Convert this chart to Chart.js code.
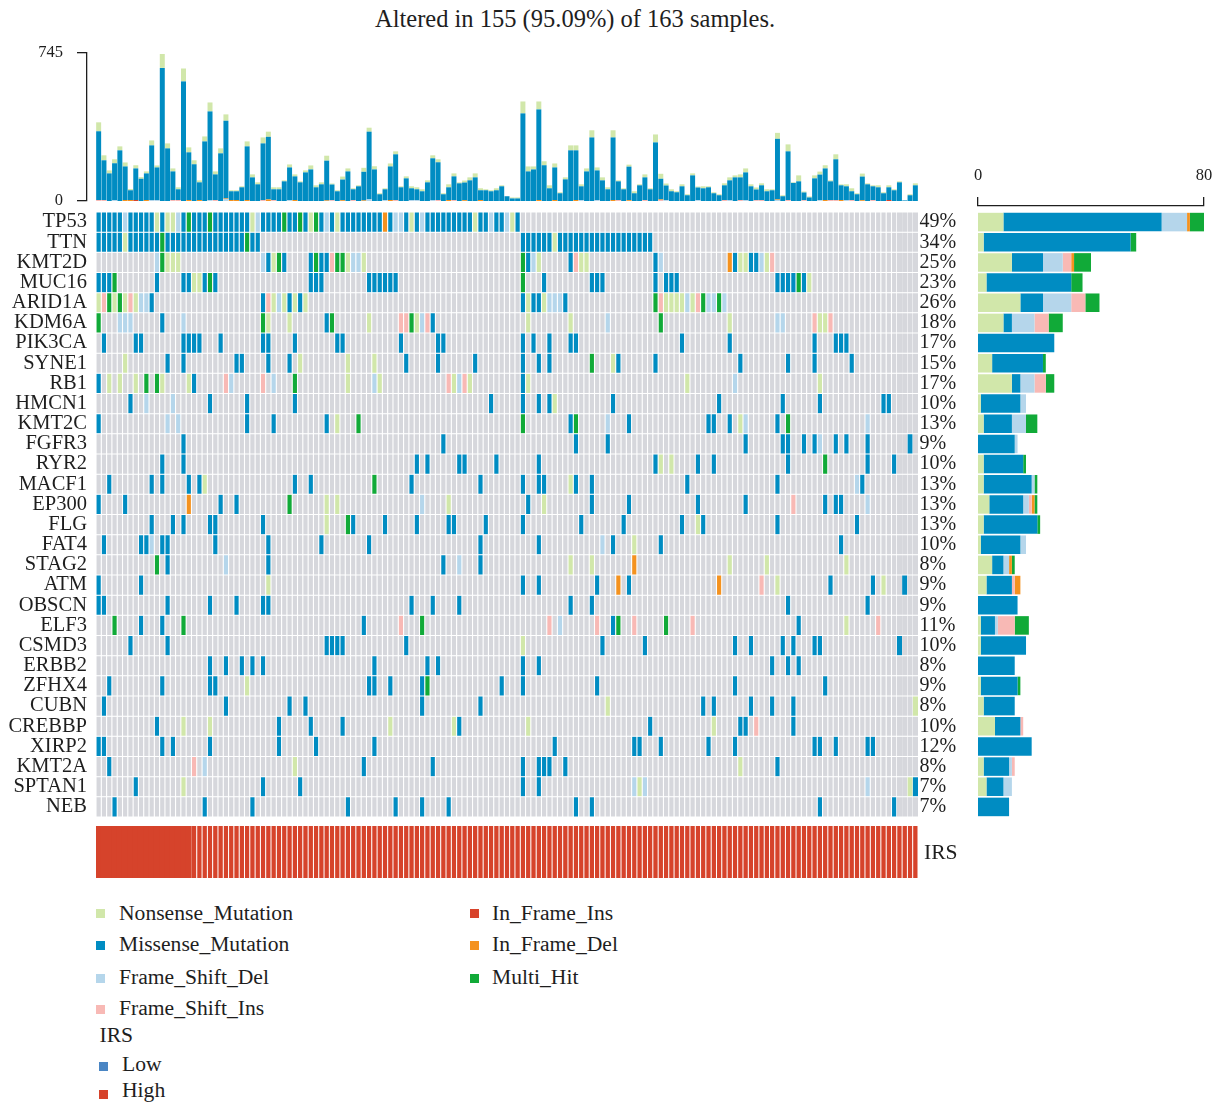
<!DOCTYPE html>
<html>
<head>
<meta charset="utf-8">
<title>Oncoplot</title>
<script src="https://cdn.jsdelivr.net/npm/chart.js@4"></script>
<style>
  body { margin: 0; background: #fff; }
  #page { position: relative; width: 1221px; height: 1106px; overflow: hidden;
          font-family: "Liberation Serif", "Times New Roman", serif; color: #1e1e1e; }
  #page canvas { position: absolute; }
  .txt { position: absolute; white-space: nowrap; line-height: 1; }
  .key { position: absolute; width: 9px; height: 9px; }
</style>
</head>
<body>
<div id="page">
  <canvas id="tmbAxis" width="90" height="175" style="left:0;top:40px"></canvas>
  <canvas id="tmb" width="822" height="148" style="left:96px;top:53px"></canvas>
  <canvas id="grid" width="975" height="629" style="left:0;top:200px"></canvas>
  <canvas id="countAxis" width="261" height="54" style="left:960px;top:160px"></canvas>
  <canvas id="counts" width="226" height="605" style="left:978px;top:212px"></canvas>
  <canvas id="irs" width="822" height="52" style="left:96px;top:826px"></canvas>
</div>
<script>
const SERIF = "'Liberation Serif', 'Times New Roman', serif";
const INK = "#1e1e1e";
const N_SAMPLES = 155;

const titleText = "Altered in 155 (95.09%) of 163 samples.";

// variant classes: code used in the gene rows, legend label, colour
const variantCodes = ["N", "M", "D", "I", "i", "d", "H"];
const variantLabels = ["Nonsense_Mutation", "Missense_Mutation", "Frame_Shift_Del", "Frame_Shift_Ins",
                       "In_Frame_Ins", "In_Frame_Del", "Multi_Hit"];
const variantColors = ["#d1e7aa", "#008cc2", "#b5d6eb", "#f8b9b5", "#d8432b", "#f4921f", "#11aa38"];
const emptyCell = "#d6d7dc";

const genes = ["TP53", "TTN", "KMT2D", "MUC16", "ARID1A", "KDM6A", "PIK3CA", "SYNE1", "RB1", "HMCN1",
               "KMT2C", "FGFR3", "RYR2", "MACF1", "EP300", "FLG", "FAT4", "STAG2", "ATM", "OBSCN",
               "ELF3", "CSMD3", "ERBB2", "ZFHX4", "CUBN", "CREBBP", "XIRP2", "KMT2A", "SPTAN1", "NEB"];
const pctLabels = [49, 34, 25, 23, 26, 18, 17, 15, 17, 10, 13, 9, 10, 13, 13, 13, 10, 8, 9, 9,
                   11, 10, 8, 9, 8, 10, 12, 8, 7, 7];

// altered samples per gene: "<sample>[-<sample>]<code>"
const TP53 = "0-4M 5D 6-10M 11N 12M 13N 14N 15D 16M 17H 18-20M 21H 22-28M 29N 30D 31-34M 35H 36M 37M 38H 39M 40N 41H 42M 43D 44M 45N 46-53M 54d 55M 56D 57D 58M 59N 60M 61D 62-70M 71N 72M 73M 74D 75M 76M 77D 78N 79M";
const TTN = "0-4M 5N 6-11M 12H 13-27M 28H 29M 30M 80-85M 86N 87-104M";
const KMT2D = "11D 12H 13N 14N 15N 31D 32M 33N 34H 35M 40M 41H 42M 43M 44I 45H 46H 47N 48D 49D 50N 80H 81M 82D 83N 89M 90I 91N 92N 105M 106D 119d 120M 121N 122N 123M 124M 125D 126N 127I";
const MUC16 = "0-2M 3H 11M 16M 17M 18N 19N 20M 21H 22M 40-42M 51-56M 80H 84M 93-95M 105M 107-109M 128-131M 132H 133M 134N";
const ARID1A = "0N 1I 2H 3N 4H 5N 6I 7N 8D 9D 10M 31M 32I 33N 34D 35N 36M 37N 38M 39N 80M 81N 82M 83M 84N 85-87D 88M 105H 106I 107-110N 111D 112N 113I 114H 115D 116D 117H 118D";
const KDM6A = "0H 4D 5D 6D 12M 16D 31H 32N 36N 43M 44H 51N 57I 58I 59H 60N 61D 62I 63M 81N 89N 96D 106H 119N 128D 129D 135I 136N 137N 138I";
const PIK3CA = "1M 7M 8M 16-19M 23M 31M 32M 37M 45M 46M 57M 64M 65M 80M 82M 85M 89M 90M 110M 119M 135M 139-141M";
const SYNE1 = "5N 13M 16M 26M 27M 32M 36M 38N 47N 52N 58M 64M 71M 80M 83M 85M 93H 97N 98M 105M 121M 130M 135M 142M";
const RB1 = "0M 2N 4N 7N 9H 11H 12N 17N 18M 24I 25D 31I 33D 37H 47N 52D 53N 66I 67N 68D 69I 70N 80M 81N 111N 120D 136N";
const HMCN1 = "6M 9D 14D 21M 28M 37M 74M 80M 83M 85M 86N 97M 117M 129M 136M 148M 149M";
const KMT2C = "0M 13D 15D 28M 33M 43M 45N 49H 80H 89M 90H 96D 100M 115M 116M 119M 121N 122D 128M 130H 145D";
const FGFR3 = "16M 65M 90M 96M 122M 129M 130M 133M 135M 136D 139M 141M 145M 153M";
const RYR2 = "12M 16M 60M 62M 68M 69M 75M 83M 105M 106N 108N 113M 116M 130M 137H 145M 150M";
const MACF1 = "2M 10M 12M 17M 19M 20N 37M 40M 52H 59M 72M 80M 83M 84M 89N 90M 93M 111M 128M 143D 144M";
const EP300 = "0M 5M 17d 23M 26M 36H 43N 45N 61D 66N 81M 84N 93M 100M 113M 122M 131I 137M 139M 140M 145D";
const FLG = "10M 14M 16M 21M 22M 31M 43N 47H 48M 54M 60M 66M 67M 73M 80M 91M 99M 110M 113N 114M 128M 143M";
const FAT4 = "1M 8M 9M 10D 12M 13M 22M 32M 42M 51M 72M 83M 95D 97M 101N 106M 140M";
const STAG2 = "11H 13M 24D 32M 65M 68D 72M 89N 93N 101d 119N 126N 141N";
const ATM = "0M 8M 32N 80M 83M 94M 98d 100M 117d 125I 128N 138M 146M 148N 152M";
const OBSCN = "0M 1M 13M 21M 26M 31M 32M 59M 63M 68M 89M 93M 130M 145M";
const ELF3 = "3H 8M 12M 16H 50M 57I 61H 85I 87D 94I 97M 98H 101I 107H 112I 132M 141N 147I";
const CSMD3 = "6M 13M 43-46M 58M 80N 95M 103M 120M 123M 129M 131M 135M 136M 151M";
const ERBB2 = "21M 24M 27M 29M 31M 52M 62M 64M 80M 83M 127M 130M 132M";
const ZFHX4 = "2M 12M 21M 22M 28N 51M 52M 55M 61M 62H 76M 80M 94M 120M 137M";
const CUBN = "1M 24M 36M 39M 61M 72M 96N 114M 116M 123M 127M 131M 154N";
const CREBBP = "11M 16N 21N 34M 40M 46M 55N 67N 68M 81N 104M 116N 121M 122M 124I 131M";
const XIRP2 = "0M 1M 12M 14M 21M 34M 41M 52M 86M 101M 102M 106M 115M 120M 135M 136M 139M 145M 146M";
const KMT2A = "2M 18I 20D 37N 50M 63M 80M 83-85M 88M 121N 128M";
const SPTAN1 = "7M 16N 31M 38M 80M 83M 101D 102N 103D 145D 153N 154M";
const NEB = "3M 20M 29M 47M 56M 61M 66M 90M 93M 136M 150M";

const geneSpecs = [TP53, TTN, KMT2D, MUC16, ARID1A, KDM6A, PIK3CA, SYNE1, RB1, HMCN1,
                   KMT2C, FGFR3, RYR2, MACF1, EP300, FLG, FAT4, STAG2, ATM, OBSCN,
                   ELF3, CSMD3, ERBB2, ZFHX4, CUBN, CREBBP, XIRP2, KMT2A, SPTAN1, NEB];

// mutation burden per sample
const tmbTicks = [0, 745];
const tmbMissense = [
  346, 200, 139, 185, 255, 169, 49, 159, 112, 134, 275, 164, 670, 265, 144, 54, 602, 240, 185, 89,
  300, 446, 129, 240, 391, 44, 44, 69, 270, 119, 84, 285, 315, 54, 59, 99, 164, 119, 94, 144,
  159, 69, 84, 200, 79, 49, 104, 149, 54, 74, 144, 341, 159, 34, 54, 169, 230, 69, 114, 59,
  54, 49, 94, 210, 190, 34, 64, 119, 89, 89, 104, 119, 49, 54, 49, 54, 74, 24, 13, 13,
  441, 149, 159, 456, 180, 64, 164, 39, 109, 255, 250, 69, 149, 320, 149, 104, 59, 315, 94, 59,
  169, 39, 79, 114, 59, 295, 104, 74, 49, 44, 74, 29, 129, 64, 64, 69, 39, 29, 74, 99,
  119, 114, 139, 74, 54, 74, 49, 54, 305, 24, 245, 91, 99, 39, 18, 114, 129, 159, 94, 205,
  74, 69, 44, 34, 119, 84, 69, 69, 39, 64, 54, 94, 3, 29, 79];
const tmbNonsense = [
  45, 25, 15, 20, 20, 20, 6, 16, 8, 10, 25, 10, 70, 25, 15, 10, 65, 25, 20, 10,
  25, 45, 15, 25, 32, 5, 5, 5, 25, 15, 10, 30, 26, 10, 10, 5, 15, 10, 5, 10,
  20, 10, 10, 25, 5, 5, 15, 15, 5, 5, 20, 20, 16, 5, 5, 15, 15, 5, 10, 10,
  10, 10, 10, 15, 15, 5, 15, 15, 5, 10, 15, 20, 10, 5, 5, 10, 5, 0, 5, 5,
  60, 25, 15, 40, 20, 15, 20, 5, 10, 25, 25, 10, 15, 36, 15, 15, 10, 36, 5, 5,
  10, 10, 5, 15, 5, 40, 25, 10, 10, 5, 10, 5, 10, 5, 10, 5, 5, 5, 10, 15,
  10, 15, 20, 10, 10, 10, 10, 5, 30, 5, 35, 3, 30, 5, 5, 15, 15, 16, 5, 25,
  5, 10, 15, 5, 15, 5, 5, 10, 5, 10, 5, 5, 0, 5, 10];
// small classes, sample -> count
const tmbFrameShiftDel = {3: 5, 10: 5, 11: 5, 21: 5, 24: 10, 36: 5, 51: 8, 54: 5, 59: 5, 60: 5, 63: 5,
  91: 5, 94: 5, 107: 4, 113: 4, 119: 5, 122: 5, 128: 5, 136: 4, 141: 5};
const tmbFrameShiftIns = {0: 5, 1: 5, 14: 5, 15: 5, 22: 5, 31: 5, 33: 5, 44: 4, 48: 5, 56: 5, 64: 5,
  67: 5, 98: 5, 103: 5, 106: 5, 118: 5, 121: 5, 124: 4, 125: 5, 130: 5, 133: 4, 138: 5, 139: 5, 142: 5, 146: 5};
const tmbInFrameDel = {5: 5, 6: 5, 9: 5, 17: 5, 19: 5, 24: 3, 25: 5, 26: 5, 28: 5, 32: 8, 37: 5, 43: 3,
  46: 4, 50: 3, 55: 5, 66: 5, 69: 4, 72: 5, 83: 5, 86: 5, 90: 5, 97: 5, 100: 4, 106: 3, 128: 3, 137: 5, 140: 5, 144: 4};
const tmbInFrameIns = {7: 5, 149: 5};

const countTicks = [0, 80];

// IRS annotation, run-length: [group, samples]
const irsRuns = [["High", 155]];
const irsColors = { Low: "#4a86c4", High: "#d6432b" };

// ---------------------------------------------------------------

const samples = Array.from({ length: N_SAMPLES }, (_, i) => "S" + (i + 1));
const colorOf = {};
variantCodes.forEach((c, i) => { colorOf[c] = variantColors[i]; });

function expandRow(spec) {
  const row = new Array(N_SAMPLES).fill("");
  for (const tok of spec.trim().split(/\s+/)) {
    const m = tok.match(/^(\d+)(?:-(\d+))?([A-Za-z])$/);
    const from = +m[1], to = m[2] ? +m[2] : from;
    for (let i = from; i <= to; i++) row[i] = m[3];
  }
  return row;
}
const geneRows = geneSpecs.map(expandRow);
const sparse = obj => samples.map((_, i) => obj[i] || 0);

// keep the plot area fixed: no extra room for half tick labels
const noLabelPadding = s => { s.paddingTop = 0; s.paddingBottom = 0; s.paddingLeft = 0; s.paddingRight = 0; };

const common = {
  responsive: false,
  animation: false,
  events: [],
  plugins: { legend: { display: false }, tooltip: { enabled: false }, title: { display: false } }
};

// y axis of the burden bars
new Chart(document.getElementById("tmbAxis"), {
  type: "line",
  data: { datasets: [] },
  options: {
    ...common,
    layout: { padding: { top: 13, bottom: 14 } },
    scales: {
      x: { type: "linear", display: false },
      y: {
        type: "linear", min: 0, max: 745,
        afterFit: s => { noLabelPadding(s); s.width = 87; },
        afterBuildTicks: s => { s.ticks = tmbTicks.map(v => ({ value: v })); },
        grid: { drawOnChartArea: false, tickLength: 10, color: INK, lineWidth: 1.3 },
        border: { display: true, color: INK, width: 1.3 },
        ticks: { padding: 14, color: INK, font: { family: SERIF, size: 16.5 } }
      }
    }
  }
});

// burden bars
const tmbSeries = [
  ["Frame_Shift_Del", sparse(tmbFrameShiftDel), colorOf.D],
  ["Frame_Shift_Ins", sparse(tmbFrameShiftIns), colorOf.I],
  ["In_Frame_Del", sparse(tmbInFrameDel), colorOf.d],
  ["In_Frame_Ins", sparse(tmbInFrameIns), colorOf.i],
  ["Missense_Mutation", tmbMissense, colorOf.M],
  ["Nonsense_Mutation", tmbNonsense, colorOf.N]
];
new Chart(document.getElementById("tmb"), {
  type: "bar",
  data: {
    labels: samples,
    datasets: tmbSeries.map(([label, data, color]) => ({
      label, data, backgroundColor: color,
      barPercentage: 0.94, categoryPercentage: 1, inflateAmount: 0
    }))
  },
  options: {
    ...common,
    scales: {
      x: { display: false, stacked: true },
      y: { display: false, stacked: true, min: 0, max: 745 }
    }
  }
});

// mutation matrix: one floating bar per gene and sample
const cellBorder = ctx => ctx.dataIndex >= 151
  ? { top: 0.5, bottom: 0.5, left: 0, right: 0 }
  : { top: 0.5, bottom: 0.5, left: 0.55, right: 0.55 };
const rowTicks = s => { s.ticks = genes.map((g, i) => ({ value: i + 0.5 })); };

new Chart(document.getElementById("grid"), {
  type: "bar",
  data: {
    labels: samples,
    datasets: geneRows.map((row, r) => ({
      label: genes[r],
      data: row.map(() => [r, r + 1]),
      backgroundColor: row.map(c => (c ? colorOf[c] : emptyCell)),
      borderColor: "#ffffff",
      borderWidth: cellBorder,
      borderSkipped: false,
      inflateAmount: 0,
      grouped: false,
      barPercentage: 1,
      categoryPercentage: 1
    }))
  },
  options: {
    ...common,
    layout: { padding: { top: 12, bottom: 12 } },
    scales: {
      x: { display: false },
      y: {
        type: "linear", min: 0, max: 30, reverse: true, position: "left",
        afterFit: s => { noLabelPadding(s); s.width = 96; },
        afterBuildTicks: rowTicks,
        grid: { display: false, drawTicks: false },
        border: { display: false },
        ticks: { autoSkip: false, padding: 9, color: INK, font: { family: SERIF, size: 20.5 },
                 callback: (v, i) => genes[i] }
      },
      pct: {
        type: "linear", min: 0, max: 30, reverse: true, position: "right",
        afterFit: s => { noLabelPadding(s); s.width = 57; },
        afterBuildTicks: rowTicks,
        grid: { display: false, drawTicks: false },
        border: { display: false },
        ticks: { autoSkip: false, padding: 1.5, color: INK, font: { family: SERIF, size: 20 },
                 callback: (v, i) => pctLabels[i] + "%" }
      }
    }
  }
});

// x axis of the per-gene counts
new Chart(document.getElementById("countAxis"), {
  type: "line",
  data: { datasets: [] },
  options: {
    ...common,
    layout: { padding: { left: 18, right: 17 } },
    scales: {
      y: { type: "linear", display: false },
      x: {
        type: "linear", position: "top", min: 0, max: 80, offset: false,
        afterFit: s => { noLabelPadding(s); s.height = 46; },
        afterBuildTicks: s => { s.ticks = countTicks.map(v => ({ value: v })); },
        grid: { drawOnChartArea: false, tickLength: 9, color: INK, lineWidth: 1.3, offset: false },
        border: { display: true, color: INK, width: 1.3 },
        ticks: { padding: 11, maxRotation: 0, color: INK, font: { family: SERIF, size: 16.5 } }
      }
    }
  }
});

// per-gene counts by class, stacked
new Chart(document.getElementById("counts"), {
  type: "bar",
  data: {
    labels: genes,
    datasets: variantCodes.map((code, k) => ({
      label: variantLabels[k],
      data: geneRows.map(row => row.filter(c => c === code).length),
      backgroundColor: variantColors[k],
      barPercentage: 0.92, categoryPercentage: 1, inflateAmount: 0
    }))
  },
  options: {
    ...common,
    indexAxis: "y",
    scales: {
      x: { display: false, stacked: true, min: 0, max: 80 },
      y: { display: false, stacked: true }
    }
  }
});

// IRS track; the first block is drawn without separators
const irsGroups = irsRuns.flatMap(([g, n]) => Array(n).fill(g));
new Chart(document.getElementById("irs"), {
  type: "bar",
  data: {
    labels: samples,
    datasets: [{
      label: "IRS",
      data: irsGroups.map(() => 1),
      backgroundColor: irsGroups.map(g => irsColors[g]),
      borderColor: "#ffffff",
      borderWidth: ctx => (ctx.dataIndex < 18 ? 0 : { left: 0.5, right: 0.5, top: 0, bottom: 0 }),
      borderSkipped: false,
      inflateAmount: ctx => (ctx.dataIndex < 18 ? 0.6 : 0),
      barPercentage: 1, categoryPercentage: 1
    }]
  },
  options: {
    ...common,
    scales: { x: { display: false }, y: { display: false, min: 0, max: 1 } }
  }
});

// text and legend
const page = document.getElementById("page");
function addText(str, x, baseline, size, center) {
  const el = document.createElement("div");
  el.className = "txt";
  el.textContent = str;
  el.style.fontSize = size + "px";
  el.style.top = (baseline - 0.84 * size) + "px";
  el.style.left = x + "px";
  if (center) el.style.transform = "translateX(-50%)";
  page.appendChild(el);
}
function addKey(color, x, y) {
  const el = document.createElement("div");
  el.className = "key";
  el.style.left = x + "px";
  el.style.top = y + "px";
  el.style.background = color;
  page.appendChild(el);
}

addText(titleText, 575, 27.5, 24.5, true);
addText("IRS", 924, 860, 21.6);

const legendRows = [[909, 921], [941, 951.7], [974, 985], [1005, 1016]];
variantCodes.forEach((code, k) => {
  const col = k < 4 ? 0 : 1;
  const [sq, base] = legendRows[col ? k - 4 : k];
  addKey(variantColors[k], col ? 470 : 96, sq);
  addText(variantLabels[k], col ? 492 : 119, base, 21.6);
});
addText("IRS", 99.5, 1043.3, 21.6);
addKey(irsColors.Low, 99, 1061.5);
addText("Low", 122, 1072.3, 21.6);
addKey(irsColors.High, 99, 1090);
addText("High", 122, 1098.3, 21.6);
</script>
</body>
</html>
